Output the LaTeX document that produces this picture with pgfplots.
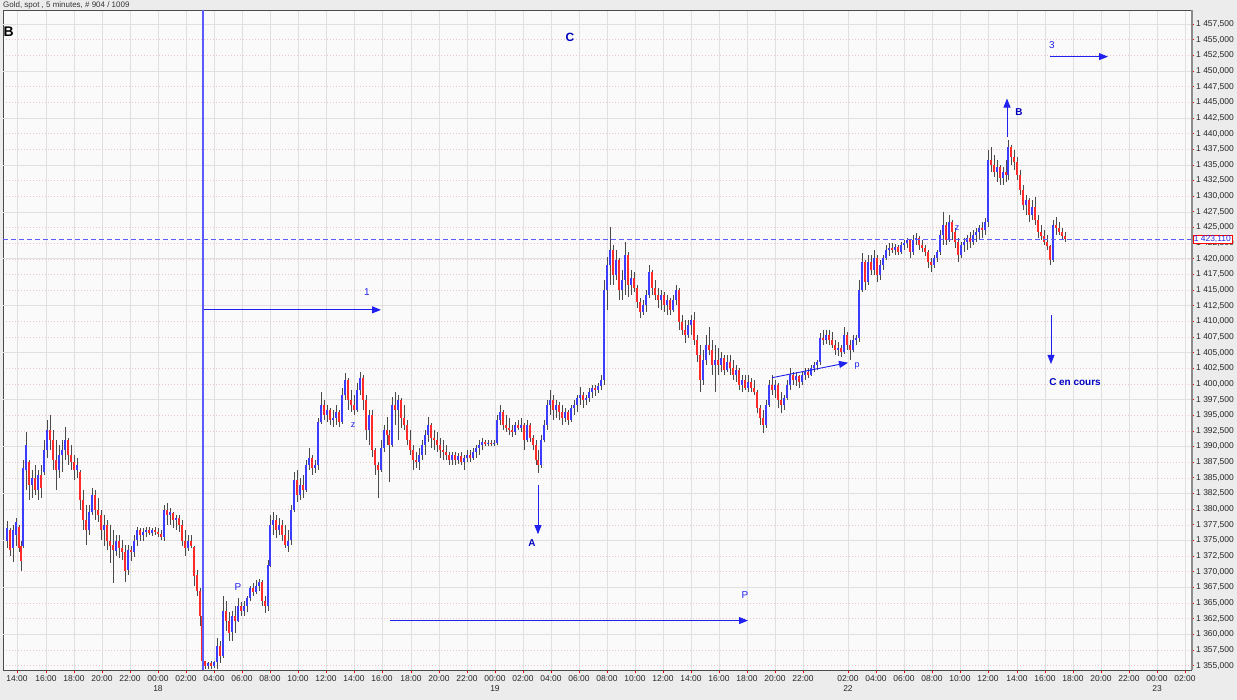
\documentclass[border=0pt]{standalone}
\usepackage{fontspec}
\setmainfont{Liberation Sans}
\usepackage{pgfplots}
\usepackage{pgfplotstable}
\pgfplotsset{compat=1.18}
\usetikzlibrary{arrows.meta}

\definecolor{outerbg}{HTML}{ECECEC}
\definecolor{plotbg}{HTML}{FAFAFA}
\definecolor{gridpink}{HTML}{EBC4C4}
\definecolor{gridgray}{HTML}{E0E0E0}
\definecolor{wick}{HTML}{4A4A4A}
\definecolor{upblue}{HTML}{3C3CFF}
\definecolor{downred}{HTML}{FF2A2A}
\definecolor{annblue}{HTML}{2020F0}
\definecolor{linblue}{HTML}{5A5AFF}
\definecolor{labblue}{HTML}{0000C0}
\tikzset{arr/.style={draw=annblue, line width=0.9bp, -{Triangle[length=9bp,width=7bp]}},
  plainline/.style={arr, arrows=-}}

% x = bar position on the time scale, lo hi open close in USD
\pgfplotstableread{
x lo hi o c
7 1373.8 1378.1 1375.0 1377.0
10 1372.6 1377.0 1376.6 1373.4
13 1371.5 1377.4 1373.8 1376.6
16 1374.2 1378.6 1375.8 1377.9
19 1373.1 1377.4 1377.2 1373.8
21 1370.2 1375.0 1374.2 1371.8
23 1373.8 1387.8 1374.2 1386.6
26 1383.0 1392.3 1386.2 1390.2
29 1381.4 1387.8 1387.5 1383.8
32 1381.8 1386.2 1383.8 1385.0
35 1382.2 1387.0 1385.0 1383.0
38 1381.4 1386.2 1383.0 1385.4
41 1381.8 1387.0 1385.4 1383.4
44 1385.4 1391.0 1385.9 1389.4
47 1388.2 1394.2 1389.4 1392.6
50 1389.4 1395.0 1392.6 1391.0
53 1386.2 1392.6 1391.0 1387.8
56 1383.0 1391.0 1387.8 1386.2
59 1385.0 1390.2 1386.2 1388.6
62 1385.9 1391.0 1388.6 1389.4
65 1387.8 1393.1 1389.4 1391.0
68 1387.0 1391.4 1391.0 1388.6
71 1386.2 1390.2 1388.6 1387.5
74 1384.6 1388.6 1387.5 1386.2
77 1385.0 1388.2 1386.2 1387.0
80 1379.8 1386.2 1385.9 1381.4
83 1376.6 1383.0 1381.4 1378.2
86 1374.2 1380.6 1378.2 1376.6
89 1375.8 1380.6 1376.6 1379.5
92 1379.0 1383.4 1379.5 1382.2
95 1378.2 1383.0 1382.2 1379.8
98 1377.9 1381.8 1379.8 1379.0
101 1375.0 1379.8 1379.0 1376.6
104 1374.2 1379.0 1376.6 1377.4
107 1373.4 1378.2 1377.4 1375.0
110 1371.4 1377.4 1375.0 1374.2
113 1368.2 1376.6 1374.2 1373.4
116 1372.6 1375.8 1373.4 1375.0
119 1372.2 1375.8 1375.0 1373.8
122 1371.8 1375.0 1373.8 1373.1
125 1368.3 1374.2 1373.1 1370.2
128 1369.4 1374.2 1370.2 1373.4
131 1371.8 1374.2 1373.4 1373.1
134 1372.3 1375.8 1373.1 1375.0
137 1374.2 1377.1 1375.0 1376.6
140 1375.0 1377.0 1376.6 1375.8
143 1375.0 1377.0 1375.8 1376.3
146 1375.5 1377.1 1376.3 1376.6
149 1375.8 1377.1 1376.6 1376.2
152 1375.7 1377.0 1376.2 1376.6
155 1375.8 1377.1 1376.6 1376.3
158 1375.5 1377.0 1376.3 1376.0
161 1375.0 1376.6 1376.0 1375.5
164 1375.0 1380.6 1375.5 1379.8
167 1377.4 1381.0 1379.8 1379.0
170 1377.4 1380.2 1379.0 1379.5
173 1377.0 1379.5 1379.4 1378.2
176 1376.6 1379.0 1378.2 1378.6
179 1376.3 1379.0 1378.6 1377.4
182 1374.2 1378.2 1377.4 1375.0
185 1372.6 1376.6 1375.0 1373.8
188 1373.4 1375.8 1373.8 1375.0
191 1373.8 1375.8 1375.0 1374.2
194 1367.8 1374.2 1374.0 1369.4
197 1366.2 1370.2 1369.4 1367.0
200 1361.4 1367.4 1367.0 1363.0
202 1354.5 1363.8 1363.0 1355.8
205 1354.4 1355.8 1355.7 1354.9
208 1354.4 1355.6 1354.9 1355.4
211 1354.4 1355.8 1355.4 1355.0
214 1354.6 1355.8 1355.0 1355.6
217 1354.5 1359.4 1355.6 1358.2
220 1355.5 1359.0 1358.2 1356.6
223 1356.2 1366.2 1356.6 1363.8
226 1360.6 1365.4 1363.8 1362.2
229 1359.0 1363.5 1362.2 1360.3
232 1359.0 1363.8 1360.3 1363.0
235 1360.3 1364.6 1363.0 1362.2
238 1361.9 1365.8 1362.2 1364.6
241 1363.0 1365.1 1364.6 1363.8
244 1363.0 1365.4 1363.8 1364.6
247 1363.5 1366.2 1364.6 1365.8
250 1365.4 1367.8 1365.8 1367.4
253 1366.2 1368.2 1367.4 1366.7
256 1366.4 1368.6 1366.7 1367.8
259 1367.0 1368.8 1367.8 1368.3
262 1364.6 1368.6 1368.3 1365.4
265 1363.4 1366.2 1365.4 1364.6
268 1363.8 1371.8 1364.6 1371.0
270 1370.7 1379.0 1371.0 1377.4
273 1375.8 1379.5 1377.4 1378.2
276 1375.4 1379.0 1378.2 1376.6
279 1375.8 1378.6 1376.6 1377.4
282 1375.0 1378.2 1377.4 1375.8
285 1373.8 1377.4 1375.8 1374.2
288 1373.1 1376.6 1374.2 1375.0
291 1374.2 1380.6 1375.0 1379.8
294 1379.5 1385.9 1379.8 1384.6
297 1381.1 1386.2 1384.6 1382.2
300 1381.4 1385.0 1382.2 1383.8
303 1381.8 1385.4 1383.8 1383.0
306 1382.7 1387.8 1383.0 1387.0
309 1386.2 1389.8 1387.0 1388.2
312 1385.4 1388.6 1388.2 1386.6
315 1385.8 1387.8 1386.6 1387.0
318 1386.2 1394.6 1387.0 1393.9
321 1393.6 1398.7 1393.9 1396.6
324 1394.2 1397.4 1396.6 1395.0
327 1393.9 1396.6 1395.0 1395.8
330 1393.4 1396.2 1395.8 1394.2
333 1393.1 1395.8 1394.2 1394.6
336 1393.4 1396.6 1394.6 1395.5
339 1393.1 1395.8 1395.5 1393.9
342 1393.6 1399.4 1393.9 1398.2
345 1397.4 1401.8 1398.2 1400.6
348 1395.8 1401.0 1400.6 1397.4
351 1395.5 1399.0 1397.4 1396.6
354 1395.0 1398.2 1396.6 1395.8
357 1395.5 1400.2 1395.8 1399.0
360 1398.2 1401.9 1399.0 1401.0
363 1395.8 1401.4 1401.0 1397.4
366 1391.0 1398.2 1397.4 1392.6
369 1390.2 1395.8 1392.6 1395.0
372 1388.3 1395.8 1395.0 1389.4
375 1385.4 1389.8 1389.4 1387.0
378 1381.8 1387.5 1387.0 1386.2
381 1385.9 1391.0 1386.2 1389.8
384 1389.1 1393.4 1389.8 1392.6
387 1390.2 1394.7 1392.6 1391.8
389 1384.3 1392.6 1391.8 1390.2
392 1389.9 1397.9 1390.2 1396.6
395 1393.4 1398.7 1396.6 1395.8
398 1391.0 1398.2 1395.8 1397.4
401 1393.0 1397.8 1397.4 1394.6
404 1392.6 1396.6 1394.6 1393.4
407 1390.2 1394.2 1393.4 1391.0
410 1388.6 1392.6 1391.0 1389.4
413 1386.2 1390.2 1389.4 1387.8
416 1386.6 1389.1 1387.8 1387.5
419 1386.2 1389.8 1387.5 1388.6
422 1387.8 1391.0 1388.6 1390.2
425 1388.6 1392.6 1390.2 1391.8
428 1390.7 1394.7 1391.8 1393.4
431 1389.8 1393.7 1393.4 1391.4
434 1389.4 1392.6 1391.4 1391.0
437 1389.1 1392.3 1391.0 1390.2
440 1388.2 1391.4 1390.2 1389.4
443 1387.8 1391.0 1389.4 1389.1
446 1387.8 1390.2 1389.1 1388.6
449 1387.0 1389.1 1388.6 1387.8
452 1387.0 1389.1 1387.8 1388.6
455 1387.0 1389.1 1388.6 1387.8
458 1387.2 1388.9 1387.8 1388.5
461 1387.0 1389.1 1388.5 1387.5
464 1386.2 1388.6 1387.5 1388.2
467 1387.5 1389.4 1388.2 1388.6
470 1387.5 1389.4 1388.6 1388.2
473 1387.8 1389.8 1388.2 1389.1
476 1388.2 1390.2 1389.1 1389.8
479 1388.6 1391.0 1389.8 1390.2
482 1389.4 1391.4 1390.2 1390.7
485 1390.1 1391.0 1390.7 1390.4
488 1390.1 1391.0 1390.4 1390.6
491 1390.1 1391.0 1390.6 1390.4
494 1390.1 1391.0 1390.4 1390.6
497 1390.2 1395.0 1390.6 1394.2
500 1393.4 1396.6 1394.2 1395.5
503 1392.6 1395.8 1395.5 1393.4
506 1392.3 1395.0 1393.4 1393.0
509 1391.8 1394.6 1393.0 1392.6
512 1391.5 1393.4 1392.6 1392.3
515 1391.8 1393.9 1392.3 1393.4
518 1392.6 1394.2 1393.4 1393.0
521 1392.3 1394.6 1393.0 1393.4
524 1389.4 1393.7 1393.4 1391.0
527 1390.7 1394.2 1391.0 1393.4
530 1390.7 1393.7 1393.4 1391.4
533 1389.4 1391.8 1391.4 1390.2
536 1387.0 1391.0 1390.2 1387.8
538 1385.8 1389.4 1387.8 1387.0
541 1386.6 1391.8 1387.0 1391.0
544 1390.7 1394.2 1391.0 1393.4
547 1392.6 1397.4 1393.4 1396.6
550 1395.0 1399.0 1396.6 1397.4
553 1394.2 1398.2 1397.4 1395.8
556 1394.6 1397.4 1395.8 1396.6
559 1394.2 1397.1 1396.6 1395.5
562 1393.4 1396.6 1395.5 1394.6
565 1393.9 1396.2 1394.6 1395.5
568 1393.4 1395.8 1395.5 1394.2
571 1393.9 1396.6 1394.2 1396.2
574 1395.0 1397.4 1396.2 1396.6
577 1395.5 1398.2 1396.6 1397.8
580 1396.6 1399.5 1397.8 1398.2
583 1396.2 1398.7 1398.2 1397.4
586 1396.6 1398.2 1397.4 1397.8
589 1397.1 1399.4 1397.8 1398.7
592 1397.8 1399.8 1398.7 1399.4
595 1398.1 1399.8 1399.4 1399.0
598 1398.6 1400.2 1399.0 1399.7
601 1399.0 1401.4 1399.7 1400.6
604 1399.8 1416.6 1400.6 1415.0
607 1411.8 1420.3 1415.0 1419.0
610 1415.8 1425.1 1419.0 1421.4
613 1415.8 1422.2 1421.4 1417.4
616 1416.6 1421.4 1417.4 1419.8
619 1413.4 1420.2 1419.8 1415.0
622 1413.4 1418.2 1415.0 1416.6
625 1414.2 1422.7 1416.6 1420.6
628 1413.9 1421.1 1420.6 1415.8
631 1414.2 1418.2 1415.8 1417.0
634 1414.7 1417.9 1417.0 1415.4
637 1412.2 1415.8 1415.4 1413.1
640 1410.6 1413.8 1413.1 1411.5
643 1411.0 1413.4 1411.5 1412.6
646 1411.5 1415.0 1412.6 1414.2
649 1413.8 1419.0 1414.2 1417.9
652 1414.2 1418.2 1417.9 1415.4
655 1413.4 1416.6 1415.4 1414.2
658 1412.2 1415.4 1414.2 1413.4
661 1411.8 1415.0 1413.4 1414.2
664 1411.5 1414.7 1414.2 1412.6
667 1411.0 1414.2 1412.6 1413.4
670 1411.0 1413.8 1413.4 1411.8
673 1411.5 1414.2 1411.8 1413.4
676 1412.6 1415.8 1413.4 1415.0
679 1408.6 1415.4 1415.0 1409.9
682 1407.8 1411.0 1409.9 1408.6
685 1406.5 1410.2 1408.6 1407.8
688 1407.4 1410.2 1407.8 1409.4
691 1407.8 1411.0 1409.4 1410.2
694 1406.2 1411.5 1410.2 1407.0
697 1403.5 1407.8 1407.0 1404.6
700 1398.7 1406.2 1404.6 1400.6
703 1399.8 1405.4 1400.6 1403.8
706 1403.0 1407.8 1403.8 1406.2
709 1404.6 1409.1 1406.2 1405.4
712 1401.4 1407.0 1405.4 1403.0
715 1398.7 1406.2 1403.0 1403.8
718 1401.4 1405.8 1403.8 1403.0
721 1401.9 1405.1 1403.0 1404.2
724 1401.4 1404.6 1404.2 1402.2
727 1401.9 1404.6 1402.2 1403.5
730 1401.4 1404.6 1403.5 1402.6
733 1400.6 1403.8 1402.6 1401.4
736 1400.3 1403.0 1401.4 1402.2
739 1399.0 1402.6 1402.2 1399.8
742 1398.7 1401.4 1399.8 1400.6
745 1399.0 1401.4 1400.6 1399.4
748 1398.7 1401.4 1399.4 1400.3
751 1398.7 1401.0 1400.3 1399.4
754 1398.2 1400.6 1399.4 1398.7
757 1395.4 1399.0 1398.7 1396.2
760 1393.4 1396.6 1396.2 1394.6
763 1392.1 1395.8 1394.6 1393.4
766 1393.0 1397.4 1393.4 1396.6
769 1396.3 1400.6 1396.6 1399.8
772 1398.2 1401.4 1399.8 1399.0
775 1397.8 1400.6 1399.0 1399.8
778 1396.2 1400.2 1399.8 1397.4
781 1395.4 1398.7 1397.4 1396.6
784 1395.8 1398.2 1396.6 1397.8
787 1397.4 1400.6 1397.8 1399.8
790 1399.0 1402.6 1399.8 1401.4
793 1399.8 1401.9 1401.4 1400.6
796 1399.7 1401.9 1400.6 1401.3
799 1399.4 1401.4 1401.3 1400.3
802 1399.8 1401.9 1400.3 1401.4
805 1400.6 1402.6 1401.4 1401.9
808 1401.0 1402.6 1401.9 1401.4
811 1401.3 1403.0 1401.4 1402.6
814 1401.9 1403.5 1402.6 1403.0
817 1402.2 1403.8 1403.0 1403.5
820 1403.0 1408.2 1403.5 1407.4
823 1406.2 1408.6 1407.4 1407.0
826 1406.4 1408.6 1407.0 1407.8
829 1406.2 1408.6 1407.8 1407.0
832 1405.8 1408.3 1407.0 1406.2
835 1404.6 1407.0 1406.2 1405.4
838 1404.5 1406.7 1405.4 1405.8
841 1404.3 1406.2 1405.8 1405.1
844 1404.8 1409.1 1405.1 1407.8
847 1405.4 1408.3 1407.8 1406.2
850 1403.8 1407.0 1406.2 1405.4
853 1405.1 1407.8 1405.4 1407.0
856 1406.2 1407.8 1407.0 1407.4
859 1406.7 1416.6 1407.4 1415.0
862 1414.7 1420.9 1415.0 1419.5
865 1415.0 1419.8 1419.5 1416.3
868 1415.8 1420.6 1416.3 1419.5
871 1417.4 1420.6 1419.5 1418.2
874 1417.4 1421.4 1418.2 1420.2
877 1416.3 1420.6 1420.2 1417.4
880 1416.6 1419.8 1417.4 1419.0
883 1418.2 1420.6 1419.0 1420.2
886 1419.8 1422.2 1420.2 1421.4
889 1420.5 1422.5 1421.4 1421.8
892 1421.0 1422.5 1421.8 1421.4
895 1420.6 1422.4 1421.4 1421.9
898 1420.6 1422.2 1421.9 1421.1
901 1420.8 1422.7 1421.1 1422.2
904 1421.4 1423.0 1422.2 1422.6
907 1421.8 1423.4 1422.6 1423.0
910 1420.2 1423.2 1423.0 1421.1
913 1420.6 1423.8 1421.1 1423.0
916 1422.2 1424.2 1423.0 1423.4
919 1421.4 1423.7 1423.4 1422.2
922 1421.1 1423.0 1422.2 1421.8
925 1420.5 1422.2 1421.8 1421.1
928 1418.6 1421.4 1421.1 1419.5
931 1417.9 1420.2 1419.5 1419.0
934 1418.6 1420.6 1419.0 1420.2
937 1419.5 1421.4 1420.2 1421.1
940 1420.6 1424.6 1421.1 1423.8
943 1422.2 1427.5 1423.8 1425.4
946 1422.2 1425.8 1425.4 1423.0
949 1422.7 1427.0 1423.0 1425.9
952 1423.0 1426.2 1425.9 1424.3
955 1421.8 1424.9 1424.3 1422.7
958 1419.5 1423.4 1422.7 1420.6
961 1420.2 1422.7 1420.6 1422.2
964 1421.1 1423.4 1422.2 1422.7
967 1421.4 1423.8 1422.7 1423.4
970 1421.8 1424.3 1423.4 1422.7
973 1422.2 1424.6 1422.7 1423.8
976 1422.7 1424.9 1423.8 1424.3
979 1423.0 1425.4 1424.3 1424.9
982 1423.4 1425.9 1424.9 1424.6
985 1423.8 1426.6 1424.6 1425.9
988 1425.1 1437.4 1425.9 1435.8
991 1433.9 1437.9 1435.8 1435.0
994 1433.0 1436.6 1435.0 1433.9
997 1432.3 1435.8 1433.9 1434.6
1000 1431.8 1435.0 1434.6 1432.9
1003 1431.8 1434.6 1432.9 1433.9
1006 1432.2 1435.8 1433.9 1433.4
1008 1432.6 1439.0 1433.4 1437.8
1011 1435.0 1438.2 1437.8 1436.2
1014 1434.2 1437.4 1436.2 1435.5
1017 1432.6 1436.2 1435.5 1433.4
1020 1430.2 1434.2 1433.4 1431.0
1023 1427.8 1431.8 1431.0 1428.6
1026 1427.0 1430.2 1428.6 1429.4
1029 1425.9 1429.8 1429.4 1427.0
1032 1426.2 1429.4 1427.0 1428.2
1035 1425.4 1429.9 1428.2 1426.2
1038 1423.4 1427.0 1426.2 1424.3
1041 1423.0 1425.4 1424.3 1423.7
1044 1422.2 1424.6 1423.7 1422.7
1047 1421.4 1423.8 1422.7 1422.1
1050 1419.0 1422.2 1422.1 1419.8
1053 1419.5 1426.2 1419.8 1425.4
1056 1423.8 1426.7 1425.4 1424.9
1059 1423.8 1425.9 1424.9 1424.3
1062 1423.0 1424.9 1424.3 1423.7
1065 1422.7 1424.3 1423.7 1423.1
}\candles

\begin{document}
\begin{tikzpicture}
\fill[outerbg] (-3bp,-30bp) rectangle (1234bp,670bp);
\useasboundingbox (-3bp,-30bp) rectangle (1234bp,670bp);
\node[anchor=west, inner sep=0pt, font=\fontsize{8}{10}\selectfont, text=black!80] at (0bp,665bp) {Gold, spot , 5 minutes, \# 904 / 1009};
\begin{axis}[
    name=ax, at={(0,0)}, anchor=south west,
    scale only axis, width=1188bp, height=660bp,
    xmin=3, xmax=1191, ymin=1354.3, ymax=1459.75,
    clip=false,
    axis background/.style={fill=plotbg},
    axis line style={draw=black!70, line width=0.7bp},
    tick align=outside, major tick length=3bp,
    tick style={draw=red, line width=0.8bp},
    xtick pos=left, ytick pos=right, yticklabel pos=right,
    ytick={1355,1357.5,...,1457.6},
    extra y ticks={1360,1367.5,...,1457.6},
    extra y tick labels={},
    extra y tick style={ymajorgrids, major y grid style={draw=gridgray, line width=0.6bp, solid}},
    tick label style={font=\fontsize{8.5}{10}\selectfont, text=black!85},
    yticklabel style={inner sep=2bp, /pgf/number format/.cd, fixed, fixed zerofill, precision=3,
      1000 sep={\ }, dec sep={,}, assume math mode=true},
    xtick={17,46,74,102,130,
      158,186,214,242,270,298,326,354,382,411,439,467,
      495,523,551,579,607,635,663,691,719,747,775,803,
      848,876,904,932,960,988,1017,1045,1073,1101,1129,
      1157,1185},
    xticklabels={14:00,16:00,18:00,20:00,22:00,
      {00:00\\18},02:00,04:00,06:00,08:00,10:00,12:00,14:00,16:00,18:00,20:00,22:00,
      {00:00\\19},02:00,04:00,06:00,08:00,10:00,12:00,14:00,16:00,18:00,20:00,22:00,
      {02:00\\22},04:00,06:00,08:00,10:00,12:00,14:00,16:00,18:00,20:00,22:00,
      {00:00\\23},02:00},
    xticklabel style={align=center, inner sep=2bp},
    xmajorgrids, ymajorgrids,
    major x grid style={draw=gridgray, line width=0.6bp},
    major y grid style={draw=gridpink, line width=0.5bp, dash pattern=on 1bp off 2bp},
  ]
  % high-low ranges
  \addplot[draw=none, mark=none, forget plot,
    error bars/.cd, y dir=both, y explicit, error mark=none,
    error bar style={draw=wick, line width=0.8bp}]
    table[x=x, y expr=(\thisrow{hi}+\thisrow{lo})/2,
          y error expr=(\thisrow{hi}-\thisrow{lo})/2] {\candles};
  % rising bodies
  \addplot[draw=none, mark=none, forget plot,
    restrict expr to domain={\thisrow{c}-\thisrow{o}}{0:1000},
    error bars/.cd, y dir=both, y explicit, error mark=none,
    error bar style={draw=upblue, line width=1.4bp}]
    table[x=x, y expr=(\thisrow{o}+\thisrow{c})/2,
          y error expr=abs(\thisrow{c}-\thisrow{o})/2] {\candles};
  % falling bodies
  \addplot[draw=none, mark=none, forget plot,
    restrict expr to domain={\thisrow{c}-\thisrow{o}}{-1000:0},
    error bars/.cd, y dir=both, y explicit, error mark=none,
    error bar style={draw=downred, line width=1.4bp}]
    table[x=x, y expr=(\thisrow{o}+\thisrow{c})/2,
          y error expr=abs(\thisrow{c}-\thisrow{o})/2] {\candles};

  % wave annotations
  \draw[arr] (axis cs:203,1411.84) -- (axis cs:381,1411.84);
  \node[text=annblue, font=\fontsize{10}{12}\selectfont] at (axis cs:367,1414.7) {1};
  \draw[arr] (axis cs:538,1383.8) -- (axis cs:538,1376.0);
  \node[text=labblue, font=\fontsize{10}{12}\selectfont\bfseries] at (axis cs:532,1374.6) {A};
  \node[text=annblue, font=\fontsize{10}{12}\selectfont] at (axis cs:238,1367.5) {P};
  \draw[arr] (axis cs:390,1362.2) -- (axis cs:748,1362.2);
  \node[text=annblue, font=\fontsize{10}{12}\selectfont] at (axis cs:745,1366.2) {P};
  \draw[arr] (axis cs:772,1401.0) -- (axis cs:848,1403.4);
  \node[text=annblue, font=\fontsize{9}{11}\selectfont] at (axis cs:857,1402.9) {p};
  \node[text=annblue, font=\fontsize{9}{11}\selectfont] at (axis cs:353,1393.4) {z};
  \node[text=annblue, font=\fontsize{9}{11}\selectfont] at (axis cs:957,1424.9) {z};
  \draw[arr] (axis cs:1007,1439.5) -- (axis cs:1007,1445.6);
  \node[text=labblue, font=\fontsize{10}{12}\selectfont\bfseries] at (axis cs:1019,1443.5) {B};
  \node[text=annblue, font=\fontsize{10}{12}\selectfont] at (axis cs:1052,1454.2) {3};
  \draw[arr] (axis cs:1050,1452.3) -- (axis cs:1108,1452.3);
  \draw[arr] (axis cs:1051,1411.0) -- (axis cs:1051,1403.2);
  \node[text=labblue, font=\fontsize{10}{12}\selectfont\bfseries] at (axis cs:1075,1400.3) {C en cours};
  \node[anchor=west, inner sep=0pt, font=\fontsize{14}{16}\selectfont\bfseries] at (axis cs:3.5,1456.3) {B};
  \node[text=labblue, font=\fontsize{12}{14}\selectfont\bfseries] at (axis cs:570,1455.4) {C};

  % last price line and wave start line
  \draw[plainline, draw=linblue, line width=1.3bp, dash pattern=on 5bp off 3bp] (axis cs:3,1423.11) -- (axis cs:1191,1423.11);
  \draw[plainline, draw=linblue, line width=1.4bp] (axis cs:203,1459.75) -- (axis cs:203,1354.3);
  \coordinate (lastpx) at (axis cs:1191,1423.11);
\end{axis}
\draw[black!45, line width=2.5bp] (1189.2bp,0) -- (1189.2bp,660bp);
\node[anchor=west, draw=red, fill=white, line width=0.6bp, inner xsep=1bp, inner ysep=0.8bp,
  text=annblue, font=\fontsize{8.5}{10}\selectfont] at ([xshift=1.5bp]lastpx) {1 423,110};
\end{tikzpicture}
\end{document}
